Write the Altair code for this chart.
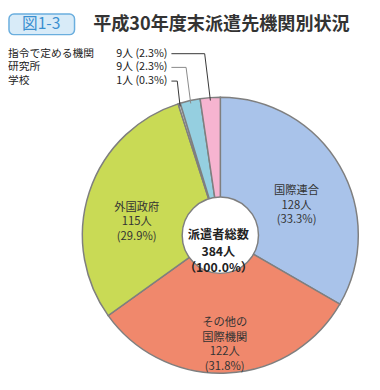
import altair as alt
import numpy as np
import pandas as pd

# ---- data ----
names = ["国際連合", "その他の国際機関", "外国政府", "学校", "研究所", "指令で定める機関"]
counts = [128, 122, 115, 1, 9, 9]
pcts = ["33.3", "31.8", "29.9", "0.3", "2.3", "2.3"]
inner_names = ["国際連合", "その他の\n国際機関", "外国政府", "", "", ""]
colors = ["#a9c3ea", "#f0886c", "#c9da55", "#cfcfcf", "#95cfe0", "#f6b4d0"]
total_label = "派遣者総数\n384人\n（100.0%）"
title_tag = "図1-3"
title_text = "平成30年度末派遣先機関別状況"
callout_rows = ["指令で定める機関", "研究所", "学校"]
callout_line_colors = ["#333333", "#888888", "#333333"]

FONT = "Noto Sans CJK JP"
W, H = 372, 382
CX, CY, R, R_IN, R_TXT = 217, 228, 141, 39, 90

pie = pd.DataFrame({
    "idx": list(range(len(names))),
    "name": names,
    "count": counts,
    "label": [f"{n}\n{c}人\n({p}%)" if n else "" for n, c, p in zip(inner_names, counts, pcts)],
})

# slice mid-angles (clockwise from 12 o'clock) for leader lines
tot = float(sum(counts))
ends = np.cumsum(counts) / tot
starts = ends - np.array(counts) / tot
mids = (starts + ends) / 2 * 2 * np.pi

row_y = [42.5, 56.5, 70.5]
elbow_x = [201, 182, 173]
line_rows = []
lab_rows = []
for i, nm in enumerate(callout_rows):
    k = names.index(nm)
    a = mids[k]
    ex = CX + (R - 3) * np.sin(a)
    ey = CY - (R - 3) * np.cos(a)
    pts = [(167, row_y[i]), (elbow_x[i], row_y[i]), (ex, ey)]
    for j, (px, py) in enumerate(pts):
        line_rows.append({"name": nm, "seq": j, "x": px, "y": py, "c": callout_line_colors[i]})
    lab_rows.append({"name": nm, "val": f"{counts[k]}人 ({pcts[k]}%)", "y": row_y[i]})
lines_df = pd.DataFrame(line_rows)
labs_df = pd.DataFrame(lab_rows)

xs = alt.Scale(domain=[0, W], nice=False, zero=False)
ys = alt.Scale(domain=[0, H], nice=False, zero=False, reverse=True)

base = alt.Chart(pie)
arcs = base.mark_arc(outerRadius=R, innerRadius=0, stroke="#7f7f7f", strokeWidth=1.5).encode(
    theta=alt.Theta("count:Q", stack=True),
    order=alt.Order("idx:Q"),
    color=alt.Color("name:N", scale=alt.Scale(domain=names, range=colors), legend=None),
    x=alt.value(CX), y=alt.value(CY),
)
inner_txt = base.mark_text(radius=R_TXT, lineBreak="\n", font=FONT, fontSize=11.5,
                           color="#333333", lineHeight=15, baseline="middle", align="center").encode(
    theta=alt.Theta("count:Q", stack=True),
    order=alt.Order("idx:Q"),
    text="label:N",
    x=alt.value(CX), y=alt.value(CY),
)
hole = alt.Chart(pd.DataFrame({"k": [0]})).mark_arc(
    outerRadius=R_IN, theta=0, theta2=6.2832, fill="white", stroke="#7f7f7f", strokeWidth=1.5
).encode(x=alt.value(CX), y=alt.value(CY))
center_txt = alt.Chart(pd.DataFrame({"t": [total_label]})).mark_text(
    lineBreak="\n", font=FONT, fontSize=12.5, fontWeight="bold", color="#222222",
    lineHeight=17, baseline="middle", align="center"
).encode(text="t:N", x=alt.value(CX - 2), y=alt.value(CY))

leaders = alt.Chart(lines_df).mark_line(strokeWidth=1).encode(
    x=alt.X("x:Q", scale=xs, axis=None),
    y=alt.Y("y:Q", scale=ys, axis=None),
    detail="name:N",
    order="seq:Q",
    color=alt.Color("c:N", scale=None),
)
row_names = alt.Chart(labs_df).mark_text(font=FONT, fontSize=11, color="#222222",
                                         align="left", baseline="middle").encode(
    x=alt.value(0), y=alt.Y("y:Q", scale=ys, axis=None), text="name:N")
row_vals = alt.Chart(labs_df).mark_text(font=FONT, fontSize=11, color="#222222",
                                        align="right", baseline="middle").encode(
    x=alt.value(163), y=alt.Y("y:Q", scale=ys, axis=None), text="val:N")

tag_box = alt.Chart(pd.DataFrame({"k": [0]})).mark_rect(
    cornerRadius=5, fill="#d8ebf8", stroke="#6aaede", strokeWidth=1.5
).encode(x=alt.value(1), x2=alt.value(68), y=alt.value(2), y2=alt.value(23))
tag_txt = alt.Chart(pd.DataFrame({"t": [title_tag]})).mark_text(
    font=FONT, fontSize=16, color="#3a8fd0", align="center", baseline="middle"
).encode(text="t:N", x=alt.value(34), y=alt.value(12.5))
title_txt = alt.Chart(pd.DataFrame({"t": [title_text]})).mark_text(
    font=FONT, fontSize=18.5, fontWeight="bold", color="#333333", align="left", baseline="middle"
).encode(text="t:N", x=alt.value(87), y=alt.value(12.5))

chart = alt.layer(
    arcs, hole, inner_txt, center_txt, leaders, row_names, row_vals, tag_box, tag_txt, title_txt
).properties(
    width=W, height=H, padding=0, autosize=alt.AutoSizeParams(type="none")
).configure_view(stroke=None)

chart.save("out.html", embed_options={"renderer": "svg", "actions": False})
